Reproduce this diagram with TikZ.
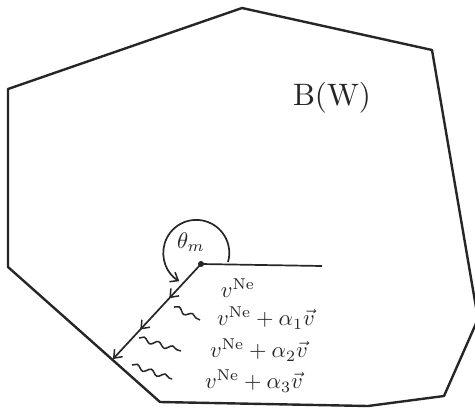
\documentclass[tikz,border=0pt]{standalone}
\usetikzlibrary{arrows.meta,decorations.markings,decorations.pathmorphing}
\begin{document}
\begin{tikzpicture}[x=1pt,y=-1pt,
  poly/.style={line width=2.4pt,line join=round,color=black!85},
  inner/.style={line width=1.7pt,color=black!85},
  tip/.style={-{Straight Barb[length=7pt,width=11pt,line width=1.5pt]}},
  arrowline/.style={postaction={decorate},decoration={markings,
     mark=at position 0.36 with {\arrow{Straight Barb[length=7pt,width=11pt,line width=1.5pt]}},
     mark=at position 0.69 with {\arrow{Straight Barb[length=7pt,width=11pt,line width=1.5pt]}}}},
  squig/.style={line width=1.5pt,color=black!85,decorate,decoration={snake,segment length=15pt,amplitude=2.4pt}},
  dotnode/.style={circle,fill=black!85,inner sep=0pt,minimum size=6pt},
  lab/.style={scale=2.25,inner sep=0pt,text=black!85}]
\useasboundingbox (0,0) rectangle (475,416);
\begin{scope}
\clip (0,0) rectangle (475,416);
\coordinate (p1) at (8,89);
\coordinate (p2) at (242,8);
\coordinate (p3) at (432,50);
\coordinate (p4) at (478,319);
\coordinate (p5) at (444,396);
\coordinate (p6) at (368,406);
\coordinate (p7) at (160,402);
\coordinate (p8) at (8,267);
\draw[poly] (p1) -- (p2) -- (p3) -- (p4) -- (p5) -- (p6) -- (p7) -- (p8) -- cycle;
\end{scope}
\node[dotnode] (o) at (201,264) {};
\coordinate (h) at (322,266);
\coordinate (c) at (113,359);
\draw[inner] (o.center) -- (h);
\draw[inner,arrowline,tip] (o.center) -- (c);
\draw[inner,tip] (228,262) arc[start angle=16,end angle=-239,radius=33];
\node[lab] (t) at (191,242) {$\theta_m$};
\node[scale=3.1,text=black!85] (b) at (332,98) {B(W)};
\node[lab] (l0) at (238,288) {$v^{\mathrm{Ne}}$};
\node[lab] (l1) at (266,318) {$v^{\mathrm{Ne}}+\alpha_1\vec{v}$};
\node[lab] (l2) at (259,350) {$v^{\mathrm{Ne}}+\alpha_2\vec{v}$};
\node[lab] (l3) at (254,381) {$v^{\mathrm{Ne}}+\alpha_3\vec{v}$};
\coordinate (s1a) at (174,307);
\coordinate (s1b) at (200,320);
\coordinate (s2a) at (139,338);
\coordinate (s2b) at (181,351);
\coordinate (s3a) at (132,365);
\coordinate (s3b) at (172,379);
\draw[squig] (s1a) -- (s1b);
\draw[squig] (s2a) -- (s2b);
\draw[squig] (s3a) -- (s3b);
\end{tikzpicture}
\end{document}
